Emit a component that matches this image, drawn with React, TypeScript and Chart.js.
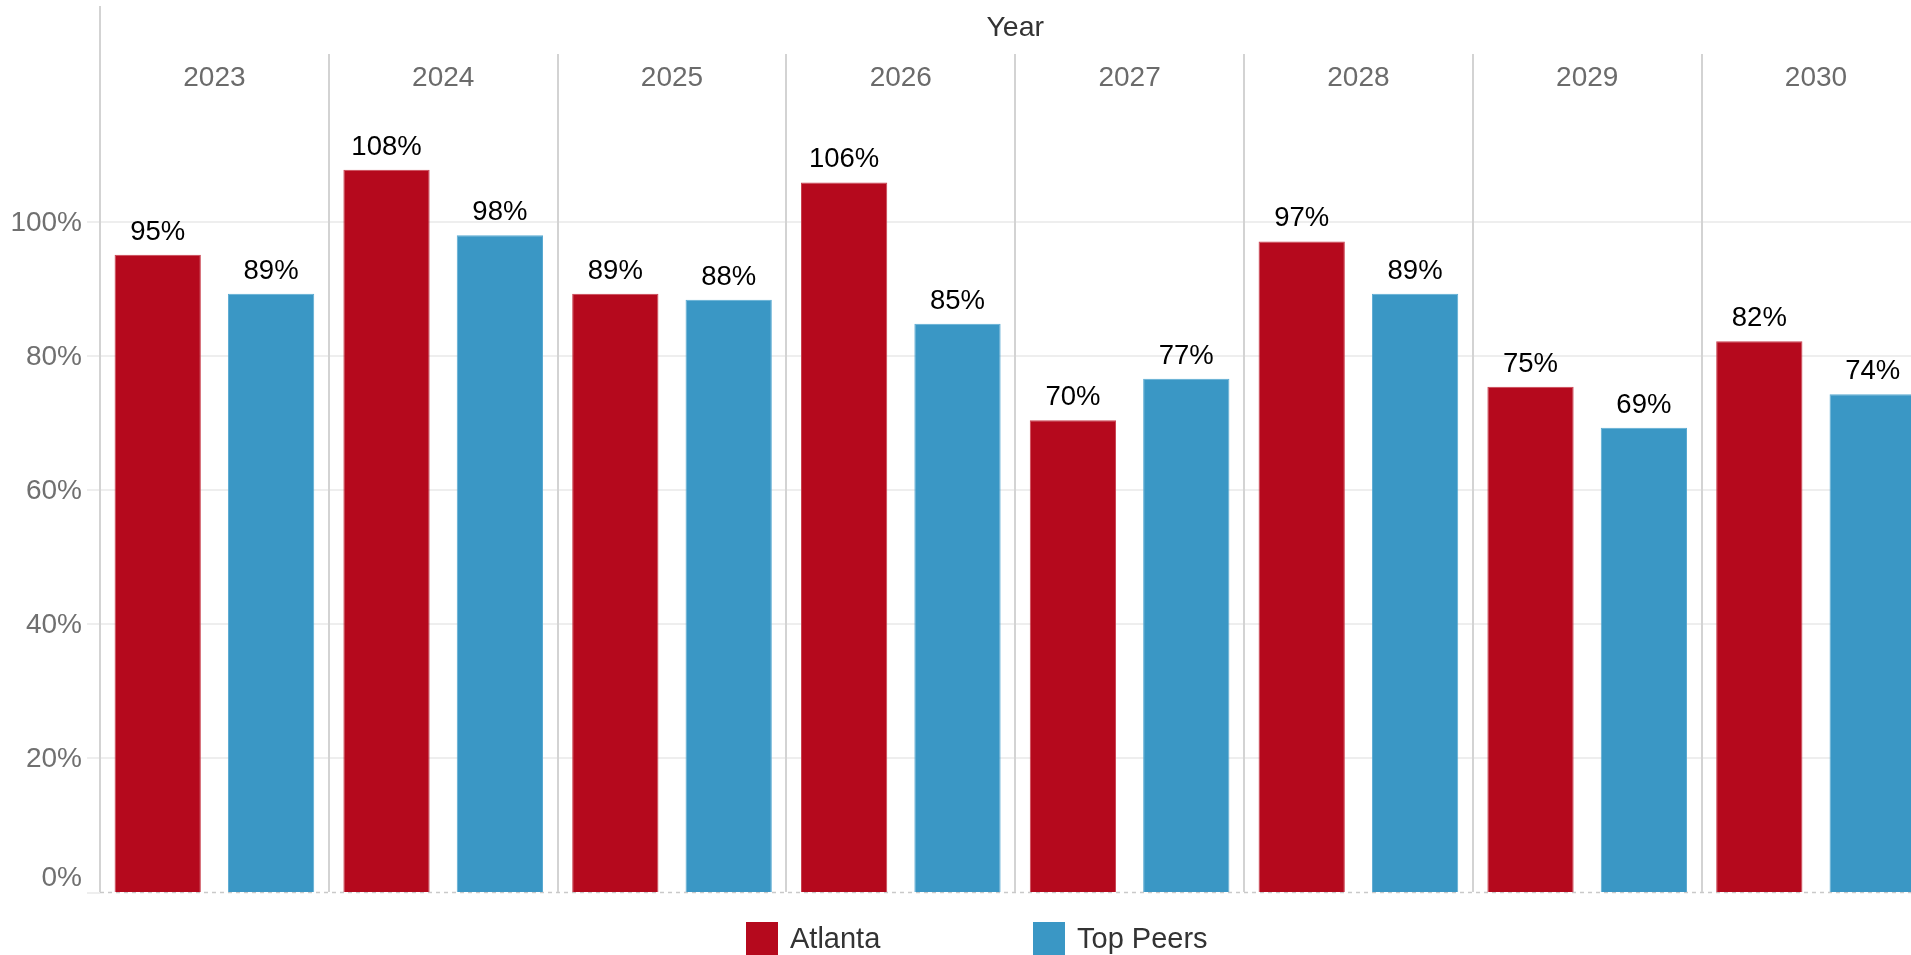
import React, { useEffect, useRef } from "react";
import { Chart, registerables } from "chart.js";

Chart.register(...registerables);

const years = ["2023", "2024", "2025", "2026", "2027", "2028", "2029", "2030"];
const atlanta = [95.1, 107.8, 89.3, 105.9, 70.4, 97.1, 75.4, 82.2];
const topPeers = [89.3, 98.0, 88.4, 84.8, 76.6, 89.3, 69.3, 74.3];
const seriesNames = ["Atlanta", "Top Peers"];
const seriesColors = ["#b5091d", "#3a97c5"];
const seriesEdges = ["#c9414f", "#5aaad2"];
const yTicks = [0, 20, 40, 60, 80, 100];
const axisTitle = "Year";

const CANVAS_W = 1960;
const CANVAS_H = 990;
const PLOT_RIGHT = 1930.4;
const FONT = "'Liberation Sans', Arial, sans-serif";

const decor = {
  id: "decor",
  beforeDatasetsDraw(chart: any) {
    const { ctx, chartArea: ca, scales } = chart;
    const x = scales.x;
    const y = scales.y;
    ctx.save();
    // horizontal gridlines
    ctx.strokeStyle = "#eeeeee";
    ctx.lineWidth = 2;
    for (const t of yTicks) {
      const py = Math.round(y.getPixelForValue(t));
      ctx.beginPath();
      if (t === 0) {
        ctx.moveTo(ca.left - 13, py + 1);
        ctx.lineTo(ca.left, py + 1);
      } else {
        ctx.moveTo(ca.left - 13, py);
        ctx.lineTo(ca.right, py);
      }
      ctx.stroke();
    }
    // dashed zero line
    const y0 = Math.round(y.getPixelForValue(0)) + 0.5;
    ctx.strokeStyle = "#c9c9c9";
    ctx.lineWidth = 1.5;
    ctx.setLineDash([4, 4]);
    ctx.beginPath();
    ctx.moveTo(ca.left, y0);
    ctx.lineTo(ca.right, y0);
    ctx.stroke();
    ctx.setLineDash([]);
    // panel dividers
    ctx.strokeStyle = "#d3d3d3";
    ctx.lineWidth = 2;
    ctx.beginPath();
    ctx.moveTo(ca.left, 6);
    ctx.lineTo(ca.left, ca.bottom);
    ctx.stroke();
    for (let i = 1; i <= years.length; i++) {
      const bx =
        i < years.length
          ? Math.round((x.getPixelForValue(i - 1) + x.getPixelForValue(i)) / 2)
          : ca.right;
      ctx.beginPath();
      ctx.moveTo(bx, 54);
      ctx.lineTo(bx, ca.bottom);
      ctx.stroke();
    }
    // header texts
    ctx.textAlign = "center";
    ctx.textBaseline = "middle";
    ctx.fillStyle = "#333333";
    ctx.font = `28.5px ${FONT}`;
    ctx.fillText(axisTitle, (ca.left + ca.right) / 2, 28);
    ctx.font = `28px ${FONT}`;
    ctx.fillStyle = "#6b6b6b";
    years.forEach((yr, i) => {
      ctx.fillText(yr, x.getPixelForValue(i), 78);
    });
    // y tick labels
    ctx.textAlign = "right";
    ctx.font = `28px ${FONT}`;
    ctx.fillStyle = "#707070";
    for (const t of yTicks) {
      let py = y.getPixelForValue(t);
      if (t === 0) py -= 15;
      ctx.fillText(`${t}%`, 82, py + 1);
    }
    ctx.restore();
  },
  afterDatasetsDraw(chart: any) {
    const { ctx } = chart;
    ctx.save();
    ctx.font = `27.5px ${FONT}`;
    ctx.fillStyle = "#000000";
    ctx.textAlign = "center";
    ctx.textBaseline = "alphabetic";
    chart.data.datasets.forEach((ds: any, di: number) => {
      const meta = chart.getDatasetMeta(di);
      meta.data.forEach((bar: any, i: number) => {
        const v = ds.data[i];
        ctx.fillText(`${Math.round(v)}%`, bar.x, bar.y - 15);
      });
    });
    ctx.restore();
  },
  afterDraw(chart: any) {
    const { ctx } = chart;
    ctx.save();
    const items = [
      { sx: 746, tx: 790 },
      { sx: 1033, tx: 1077 },
    ];
    ctx.font = `29px ${FONT}`;
    ctx.textAlign = "left";
    ctx.textBaseline = "alphabetic";
    items.forEach((it, i) => {
      ctx.fillStyle = seriesColors[i];
      ctx.fillRect(it.sx, 922, 32, 34);
      ctx.fillStyle = "#333333";
      ctx.fillText(seriesNames[i], it.tx, 948);
    });
    ctx.restore();
  },
};

export default function App() {
  const ref = useRef<HTMLCanvasElement | null>(null);
  useEffect(() => {
    if (!ref.current) return;
    const chart = new Chart(ref.current, {
      type: "bar",
      data: {
        labels: years,
        datasets: [
          {
            label: seriesNames[0],
            data: atlanta,
            backgroundColor: seriesColors[0],
            borderColor: seriesEdges[0],
            borderWidth: { left: 1, right: 1, top: 1, bottom: 0 },
            categoryPercentage: 0.991,
            barPercentage: 0.761,
          },
          {
            label: seriesNames[1],
            data: topPeers,
            backgroundColor: seriesColors[1],
            borderColor: seriesEdges[1],
            borderWidth: { left: 1, right: 1, top: 1, bottom: 0 },
            categoryPercentage: 0.991,
            barPercentage: 0.761,
          },
        ],
      },
      options: {
        animation: false,
        responsive: false,
        devicePixelRatio: 1,
        layout: {
          padding: { left: 100, top: 100, right: CANVAS_W - PLOT_RIGHT, bottom: CANVAS_H - 892 },
        },
        plugins: { legend: { display: false }, tooltip: { enabled: false } },
        scales: {
          x: { display: false, offset: true },
          y: { display: false, min: 0, max: 118.2 },
        },
      },
      plugins: [decor],
    });
    return () => chart.destroy();
  }, []);
  return (
    <div
      style={{
        position: "fixed",
        left: 0,
        top: 0,
        width: 1911,
        height: 955,
        overflow: "hidden",
        background: "#ffffff",
      }}
    >
      <canvas ref={ref} width={CANVAS_W} height={CANVAS_H} style={{ display: "block" }} />
    </div>
  );
}
